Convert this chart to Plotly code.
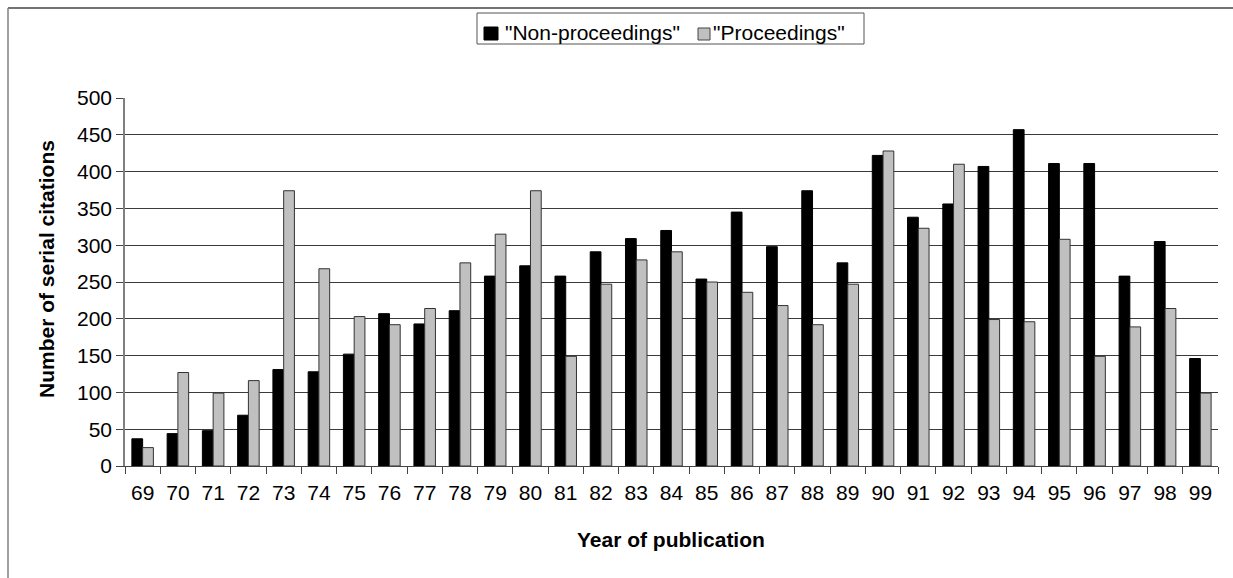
import plotly.graph_objects as go

years = ["69", "70", "71", "72", "73", "74", "75", "76", "77", "78", "79",
         "80", "81", "82", "83", "84", "85", "86", "87", "88", "89", "90",
         "91", "92", "93", "94", "95", "96", "97", "98", "99"]
non_proceedings = [37, 44, 48, 69, 131, 128, 152, 207, 193, 211, 258,
                   272, 258, 291, 309, 320, 254, 345, 298, 374, 276, 422,
                   338, 356, 407, 457, 411, 411, 258, 305, 146]
proceedings = [25, 127, 99, 116, 374, 268, 203, 192, 214, 276, 315,
               374, 149, 247, 280, 291, 250, 236, 218, 192, 247, 428,
               323, 410, 199, 196, 308, 149, 189, 214, 99]
y_ticks = [0, 50, 100, 150, 200, 250, 300, 350, 400, 450, 500]
series_names = ['"Non-proceedings"', '"Proceedings"']

W, H = 1233, 578
L, R, T, B = 125, 15, 98, 112
pw, ph = W - L - R, H - T - B

def px_x(x):
    return (x - L) / pw

def px_y(y):
    return (H - B - y) / ph

FONT = "Liberation Sans, Arial, sans-serif"
BLACK, GREY = "#000000", "#c0c0c0"

fig = go.Figure()
fig.add_trace(go.Bar(
    x=years, y=non_proceedings, name=series_names[0],
    marker=dict(color=BLACK, line=dict(color="#000000", width=1)),
))
fig.add_trace(go.Bar(
    x=years, y=proceedings, name=series_names[1],
    marker=dict(color=GREY, line=dict(color="#333333", width=1)),
))

def rect(x0, y0, x1, y1, fill, line_color, width=1):
    return dict(type="rect", xref="paper", yref="paper",
                x0=px_x(x0), x1=px_x(x1), y0=px_y(y1), y1=px_y(y0),
                fillcolor=fill, line=dict(color=line_color, width=width),
                layer="above")

def line(x0, y0, x1, y1, color, width):
    return dict(type="line", xref="paper", yref="paper",
                x0=px_x(x0), x1=px_x(x1), y0=px_y(y0), y1=px_y(y1),
                line=dict(color=color, width=width))

# legend box drawn as shapes + text so its spacing stays compact
shapes = [
    line(8, 8, W + 2, 8, "#444444", 1.5),
    line(8, 8, 8, H + 2, "#808080", 1.5),
    rect(477, 13, 864, 44, "white", "#555555"),
    rect(484, 27, 498, 40, BLACK, BLACK),
    rect(698, 28, 710, 40, GREY, "#444444"),
]

annotations = [
    dict(text="<b>Number of serial citations</b>", textangle=-90,
         xref="paper", yref="paper", x=px_x(46), y=px_y(269),
         xanchor="center", yanchor="middle", showarrow=False,
         font=dict(family=FONT, size=21)),
    dict(text="<b>Year of publication</b>",
         xref="paper", yref="paper", x=px_x(671), y=px_y(539),
         xanchor="center", yanchor="middle", showarrow=False,
         font=dict(family=FONT, size=21)),
    dict(text=series_names[0], xref="paper", yref="paper",
         x=px_x(503), y=px_y(32), xanchor="left", yanchor="middle",
         showarrow=False, font=dict(family=FONT, size=21)),
    dict(text=series_names[1], xref="paper", yref="paper",
         x=px_x(711), y=px_y(32), xanchor="left", yanchor="middle",
         showarrow=False, font=dict(family=FONT, size=21)),
]

fig.update_layout(
    width=W, height=H,
    margin=dict(l=L, r=R, t=T, b=B, pad=0),
    paper_bgcolor="white", plot_bgcolor="white",
    barmode="group", bargap=0.39, bargroupgap=0,
    font=dict(family=FONT, size=21, color="black"),
    showlegend=False,
    xaxis=dict(
        type="category", showgrid=False,
        showline=True, linecolor="#444444", linewidth=1,
        ticks="outside", tickson="boundaries", ticklen=7,
        tickcolor="#444444", tickwidth=1,
        tickfont=dict(family=FONT, size=21),
        ticklabelstandoff=8,
    ),
    yaxis=dict(
        range=[0, 500], tickvals=y_ticks,
        showgrid=True, gridcolor="#3a3a3a", gridwidth=1,
        showline=True, linecolor="#808080", linewidth=1.5,
        ticks="outside", ticklen=7, tickcolor="#444444", tickwidth=1,
        tickfont=dict(family=FONT, size=21),
        zeroline=False,
    ),
    shapes=shapes,
    annotations=annotations,
)

fig.write_html("out.html")
